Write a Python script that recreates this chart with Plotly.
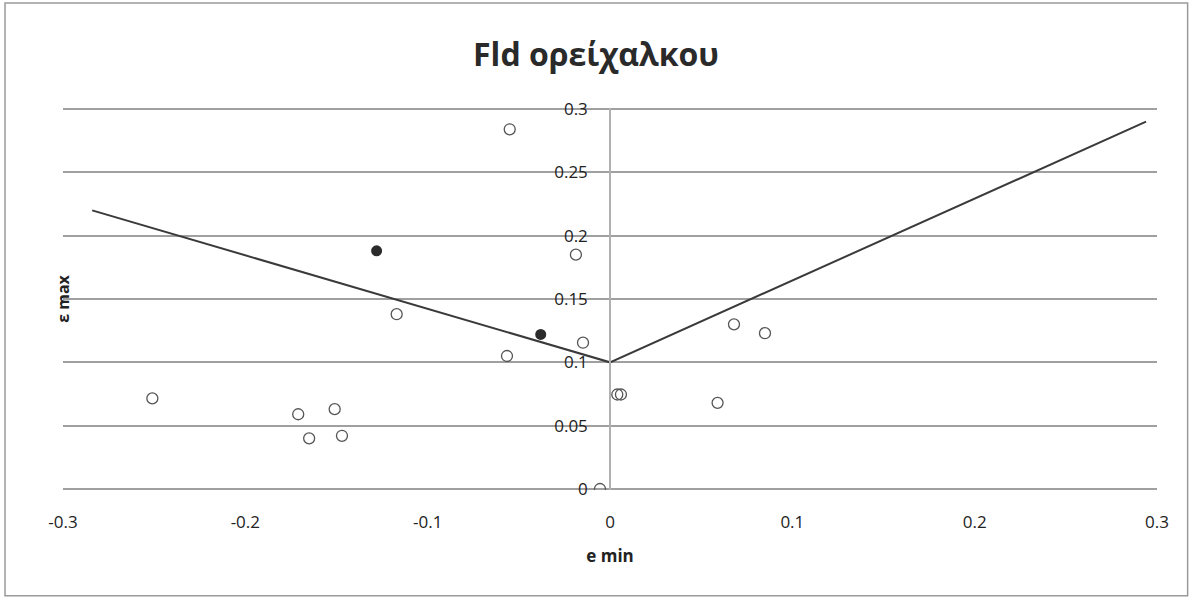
import plotly.graph_objects as go

# Data
open_x = [-0.251, -0.171, -0.165, -0.151, -0.147, -0.117, -0.055, -0.0565, -0.0187, -0.0148, -0.0055, 0.004, 0.006, 0.059, 0.068, 0.085]
open_y = [0.0715, 0.059, 0.040, 0.063, 0.042, 0.138, 0.284, 0.105, 0.185, 0.1155, 0.0, 0.0746, 0.0746, 0.068, 0.130, 0.123]
filled_x = [-0.128, -0.038]
filled_y = [0.188, 0.122]
line_x = [-0.284, 0.0, 0.294]
line_y = [0.22, 0.10, 0.29]

x_ticks = [-0.3, -0.2, -0.1, 0, 0.1, 0.2, 0.3]
x_tick_labels = ["-0.3", "-0.2", "-0.1", "0", "0.1", "0.2", "0.3"]
y_ticks = [0, 0.05, 0.1, 0.15, 0.2, 0.25, 0.3]
y_tick_labels = ["0", "0.05", "0.1", "0.15", "0.2", "0.25", "0.3"]

FONT = "Open Sans"

fig = go.Figure()
fig.add_trace(go.Scatter(x=line_x, y=line_y, mode="lines",
                         line=dict(color="#3a3a3a", width=2), showlegend=False))
fig.add_trace(go.Scatter(x=open_x, y=open_y, mode="markers",
                         marker=dict(symbol="circle-open", size=11, color="#555555",
                                     line=dict(width=1.3)), showlegend=False))
fig.add_trace(go.Scatter(x=filled_x, y=filled_y, mode="markers",
                         marker=dict(symbol="circle", size=11, color="#2b2b2b"), showlegend=False))

fig.update_layout(
    width=1192, height=600,
    margin=dict(l=63, r=35, t=108, b=110),
    paper_bgcolor="white", plot_bgcolor="white",
    font=dict(family=FONT, color="#222222", size=17),
    title=dict(text="<b>Fld ορείχαλκου</b>", x=0.5, xanchor="center", y=0.908, yanchor="middle",
               font=dict(family=FONT, size=32, color="#2a2a2a")),
    xaxis=dict(range=[-0.3, 0.3], tickvals=x_ticks, ticktext=x_tick_labels,
               showgrid=False, zeroline=False, showline=False, ticks="",
               tickfont=dict(size=17), ticklabelstandoff=20,
               title=dict(text="<b>e min</b>", font=dict(size=17), standoff=18)),
    yaxis=dict(range=[-0.0008, 0.3008], tickvals=y_ticks, ticktext=y_tick_labels,
               showgrid=True, gridcolor="#a0a0a0", gridwidth=1.5,
               zeroline=False, anchor="free", position=0.5,
               showline=True, linecolor="#b0b0b0", linewidth=1.5, ticks="",
               tickfont=dict(size=17), ticklabelstandoff=18),
    shapes=[dict(type="rect", xref="paper", yref="paper",
                 x0=-0.053, x1=1.028, y0=-0.277, y1=1.275,
                 line=dict(color="#9a9a9a", width=1.5))],
    annotations=[dict(text="<b>ε max</b>", xref="paper", yref="paper",
                      x=-0.012, y=0.5, textangle=-90, showarrow=False,
                      font=dict(size=16, family=FONT))],
)

fig.write_html("out.html")
